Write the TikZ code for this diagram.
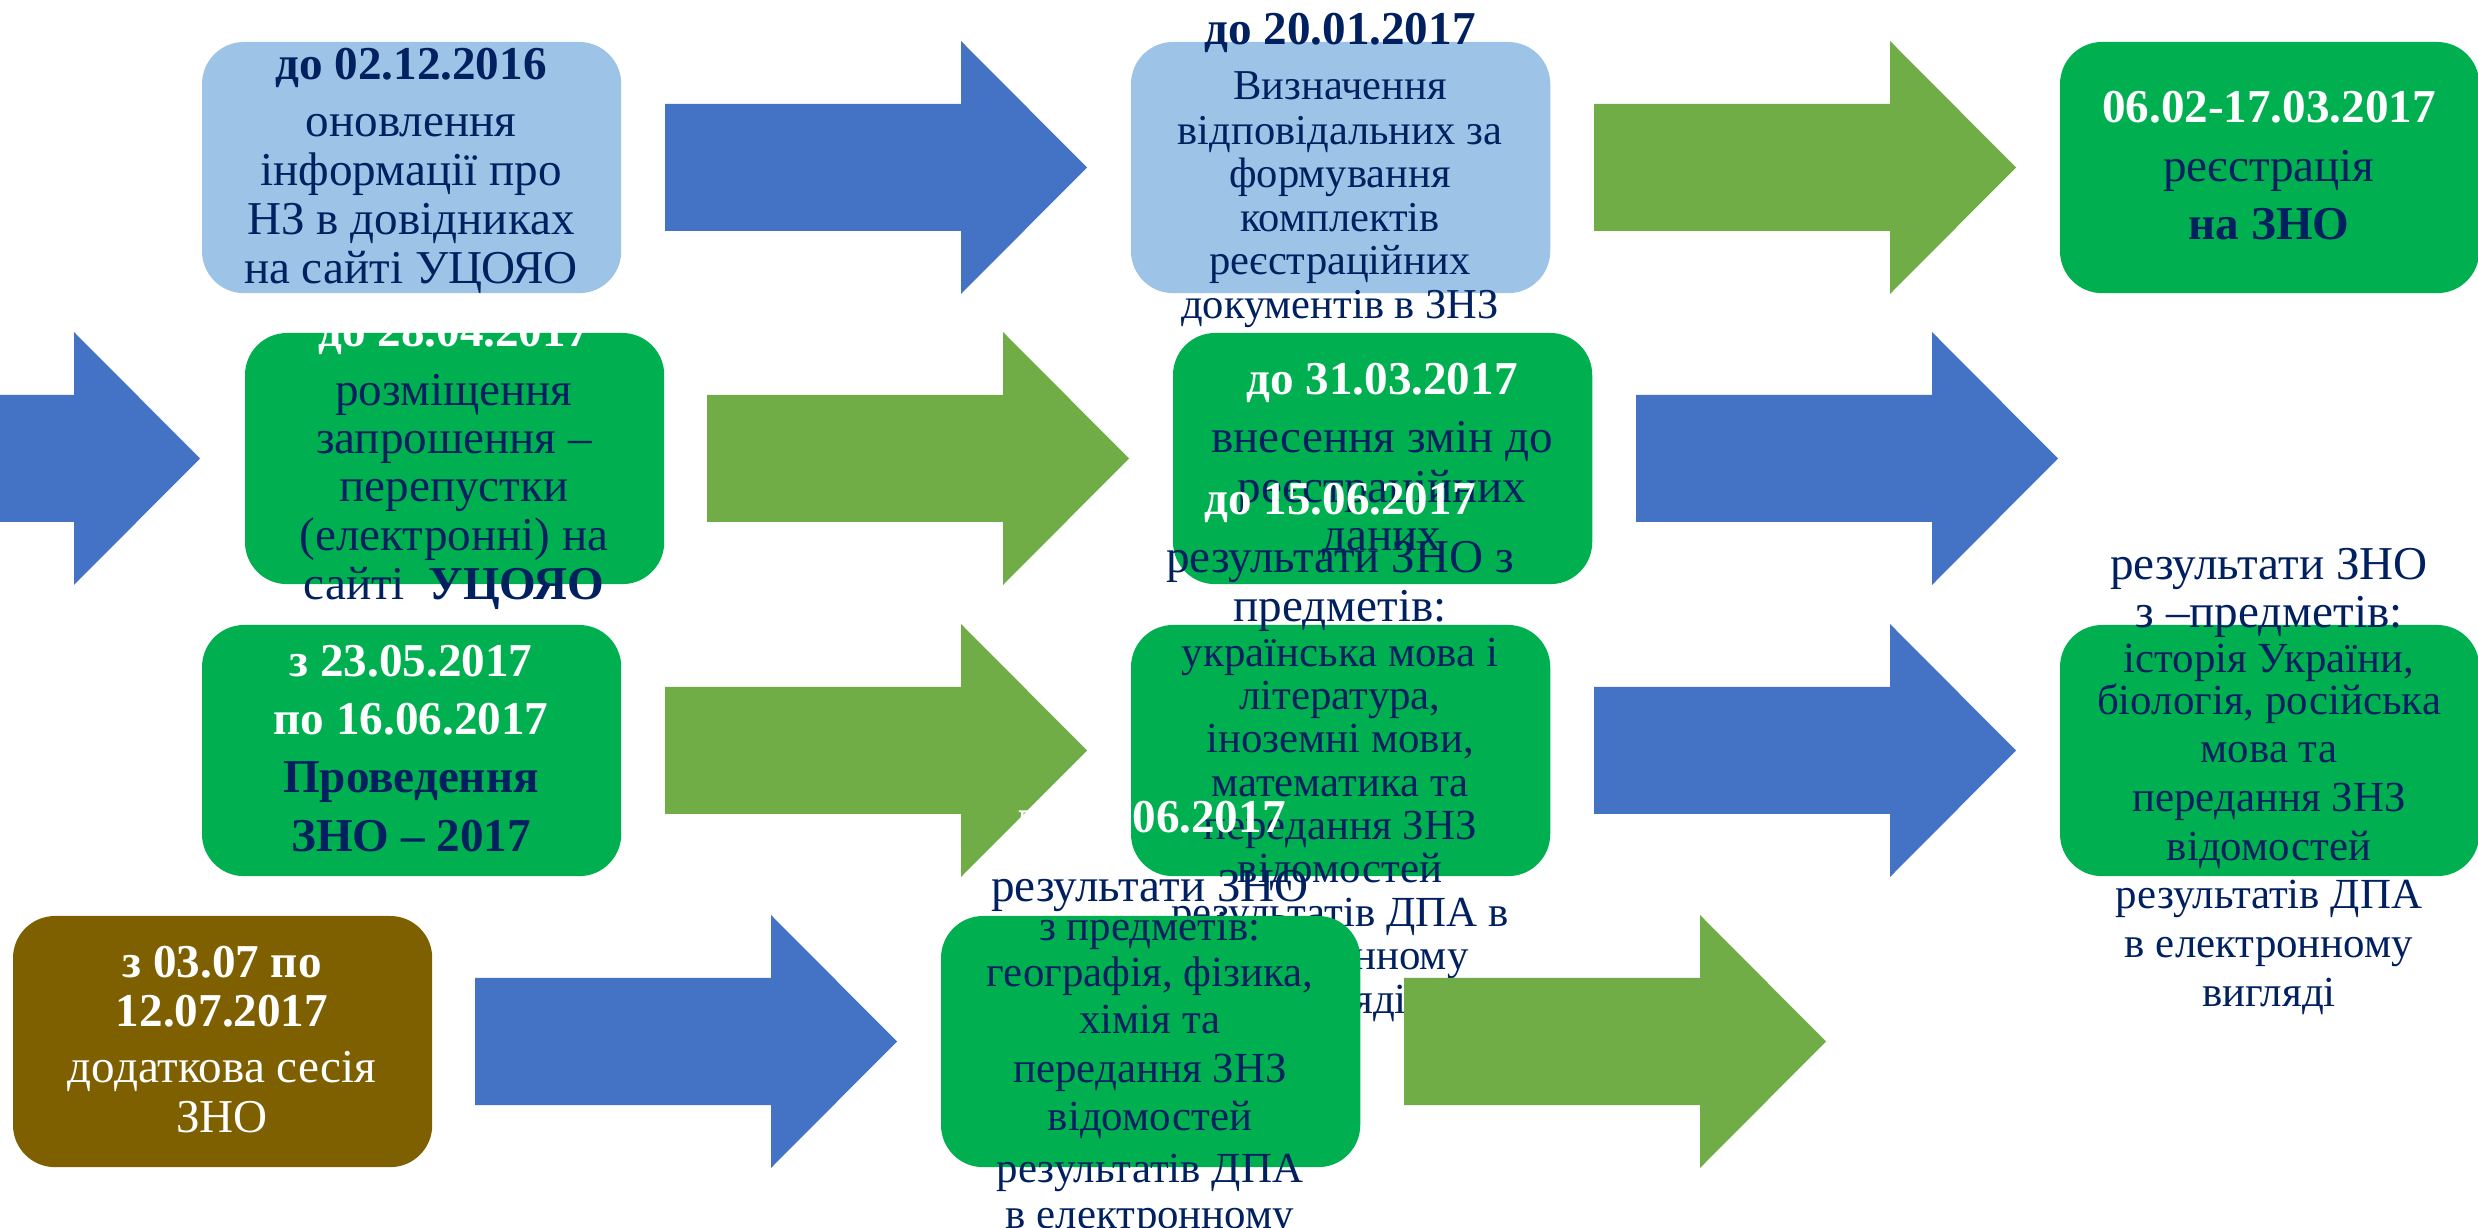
\documentclass[tikz,border=0pt]{standalone}
\usepackage{fontspec}
\setmainfont{Liberation Serif}
\definecolor{lblue}{HTML}{9DC3E6}
\definecolor{barrow}{HTML}{4472C4}
\definecolor{garrow}{HTML}{70AD47}
\definecolor{gbox}{HTML}{00B050}
\definecolor{bbox}{HTML}{7F6000}
\definecolor{navy}{HTML}{002060}
\newcommand{\BlockArrow}[3]{%
  \fill[#3] (#1,#2-63.5) -- (#1+296,#2-63.5) -- (#1+296,#2-126.5) -- (#1+422,#2)
    -- (#1+296,#2+126.5) -- (#1+296,#2+63.5) -- (#1,#2+63.5) -- cycle;}
\newcommand{\TxtLine}[5]{\node[#1] (#2) at (#3,#4) {#5};}
\tikzset{
  box/.style={rectangle, rounded corners=0.42cm, minimum width=4.19cm,
    minimum height=2.51cm, inner sep=0pt, outer sep=0pt, anchor=north west},
  txt/.style={anchor=base, inner sep=0pt, outer sep=0pt},
  nr/.style={txt, text=navy, font=\fontsize{13.4}{14}\selectfont},
  nb/.style={txt, text=navy, font=\fontsize{13.4}{14}\selectfont\bfseries},
  wb/.style={txt, text=white, font=\fontsize{13.4}{14}\selectfont\bfseries},
  wr/.style={txt, text=white, font=\fontsize{13.4}{14}\selectfont},
  nm/.style={txt, text=navy, font=\fontsize{12.2}{13}\selectfont},
  ns/.style={txt, text=navy, font=\fontsize{12.1}{13}\selectfont},
}
\begin{document}
\begin{tikzpicture}[x=0.01cm,y=-0.01cm]
\useasboundingbox (0,0) rectangle (2478,1228);
\clip (0,0) rectangle (2478,1228);
\fill[white] (0,0) rectangle (2478,1228);
% ---------- row 1 ----------
\node[box, fill=lblue] (A) at (202,42) {};
\TxtLine{nb}{a1}{411}{80}{до 02.12.2016}
\TxtLine{nr}{a2}{411}{137}{оновлення}
\TxtLine{nr}{a3}{411}{186}{інформації про}
\TxtLine{nr}{a4}{411}{235}{НЗ в довідниках}
\TxtLine{nr}{a5}{411}{284}{на сайті УЦОЯО}
\BlockArrow{665}{167.5}{barrow}
\node[box, fill=lblue] (B) at (1131,42) {};
\TxtLine{nb}{b1}{1340}{45}{до 20.01.2017}
\TxtLine{ns}{b2}{1340}{100}{Визначення}
\TxtLine{ns}{b3}{1340}{145}{відповідальних за}
\TxtLine{ns}{b4}{1340}{188}{формування}
\TxtLine{ns}{b5}{1340}{232}{комплектів}
\TxtLine{ns}{b6}{1340}{275}{реєстраційних}
\TxtLine{ns}{b7}{1340}{319}{документів в ЗНЗ}
\BlockArrow{1594}{167.5}{garrow}
\node[box, fill=gbox] (C) at (2060,42) {};
\TxtLine{wb}{c1}{2269}{123}{06.02-17.03.2017}
\TxtLine{nr}{c2}{2269}{182}{реєстрація}
\TxtLine{nb}{c3}{2269}{240}{на ЗНО}
% ---------- row 2 ----------
\BlockArrow{-222}{458.5}{barrow}
\node[box, fill=gbox] (D) at (245,333) {};
\TxtLine{wb}{d1}{454}{347}{до 28.04.2017}
\TxtLine{nr}{d2}{454}{406}{розміщення}
\TxtLine{nr}{d3}{454}{454}{запрошення –}
\TxtLine{nr}{d4}{454}{502}{перепустки}
\TxtLine{nr}{d5}{454}{551}{(електронні) на}
\TxtLine{nr}{d6}{454}{600}{сайті\ \ \textbf{УЦОЯО}}
\BlockArrow{707}{458.5}{garrow}
\node[box, fill=gbox] (E) at (1173,333) {};
\TxtLine{wb}{e1}{1382}{395}{до 31.03.2017}
\TxtLine{nr}{e2}{1382}{453}{внесення змін до}
\TxtLine{nr}{e3}{1382}{503}{реєстраційних}
\TxtLine{nr}{e4}{1382}{551}{даних}
\BlockArrow{1636}{458.5}{barrow}
% ---------- row 3 ----------
\node[box, fill=gbox] (F) at (202,625) {};
\TxtLine{wb}{f1}{411}{677}{з 23.05.2017}
\TxtLine{wb}{f2}{411}{735}{по 16.06.2017}
\TxtLine{nb}{f3}{411}{793}{Проведення}
\TxtLine{nb}{f4}{411}{852}{ЗНО – 2017}
\BlockArrow{665}{750.5}{garrow}
\node[box, fill=gbox] (G) at (1131,625) {};
\TxtLine{wb}{g1}{1340}{515}{до 15.06.2017}
\TxtLine{nr}{g2}{1340}{573}{результати ЗНО з}
\TxtLine{nr}{g3}{1340}{622}{предметів:}
\TxtLine{nm}{g4}{1340}{667}{українська мова і}
\TxtLine{nm}{g5}{1340}{710}{література,}
\TxtLine{nm}{g6}{1340}{753}{іноземні мови,}
\TxtLine{nm}{g7}{1340}{797}{математика та}
\TxtLine{nm}{g8}{1340}{840}{передання ЗНЗ}
\TxtLine{nm}{g9}{1340}{883}{відомостей}
\TxtLine{nm}{g10}{1340}{927}{результатів ДПА в}
\TxtLine{nm}{g11}{1340}{970}{електронному}
\TxtLine{nm}{g12}{1340}{1013}{вигляді}
\BlockArrow{1594}{750.5}{barrow}
\node[box, fill=gbox] (H) at (2060,625) {};
\TxtLine{nr}{h1}{2269}{580}{результати ЗНО}
\TxtLine{nr}{h2}{2269}{628}{з –предметів:}
\TxtLine{nm}{h3}{2269}{673}{історія України,}
\TxtLine{nm}{h4}{2269}{715}{біологія, російська}
\TxtLine{nm}{h5}{2269}{763}{мова та}
\TxtLine{nm}{h6}{2269}{812}{передання ЗНЗ}
\TxtLine{nm}{h7}{2269}{860}{відомостей}
\TxtLine{nm}{h8}{2269}{909}{результатів ДПА}
\TxtLine{nm}{h9}{2269}{958}{в електронному}
\TxtLine{nm}{h10}{2269}{1007}{вигляді}
% ---------- row 4 ----------
\node[box, fill=bbox] (I) at (13,916) {};
\TxtLine{wb}{i1}{222}{978}{з 03.07 по}
\TxtLine{wb}{i2}{222}{1027}{12.07.2017}
\TxtLine{wr}{i3}{222}{1083}{додаткова сесія}
\TxtLine{wr}{i4}{222}{1133}{ЗНО}
\BlockArrow{475}{1041.5}{barrow}
\node[box, fill=gbox] (J) at (941,916) {};
\TxtLine{wb}{j1}{1150}{833}{до 23.06.2017}
\TxtLine{nr}{j2}{1150}{902}{результати ЗНО}
\TxtLine{nm}{j3}{1150}{940}{з предметів:}
\TxtLine{nm}{j4}{1150}{987}{географія, фізика,}
\TxtLine{nm}{j5}{1150}{1033}{хімія та}
\TxtLine{nm}{j6}{1150}{1082}{передання ЗНЗ}
\TxtLine{nm}{j7}{1150}{1130}{відомостей}
\TxtLine{nm}{j8}{1150}{1182}{результатів ДПА}
\TxtLine{nm}{j9}{1150}{1228}{в електронному}
\BlockArrow{1404}{1041.5}{garrow}
\end{tikzpicture}
\end{document}
